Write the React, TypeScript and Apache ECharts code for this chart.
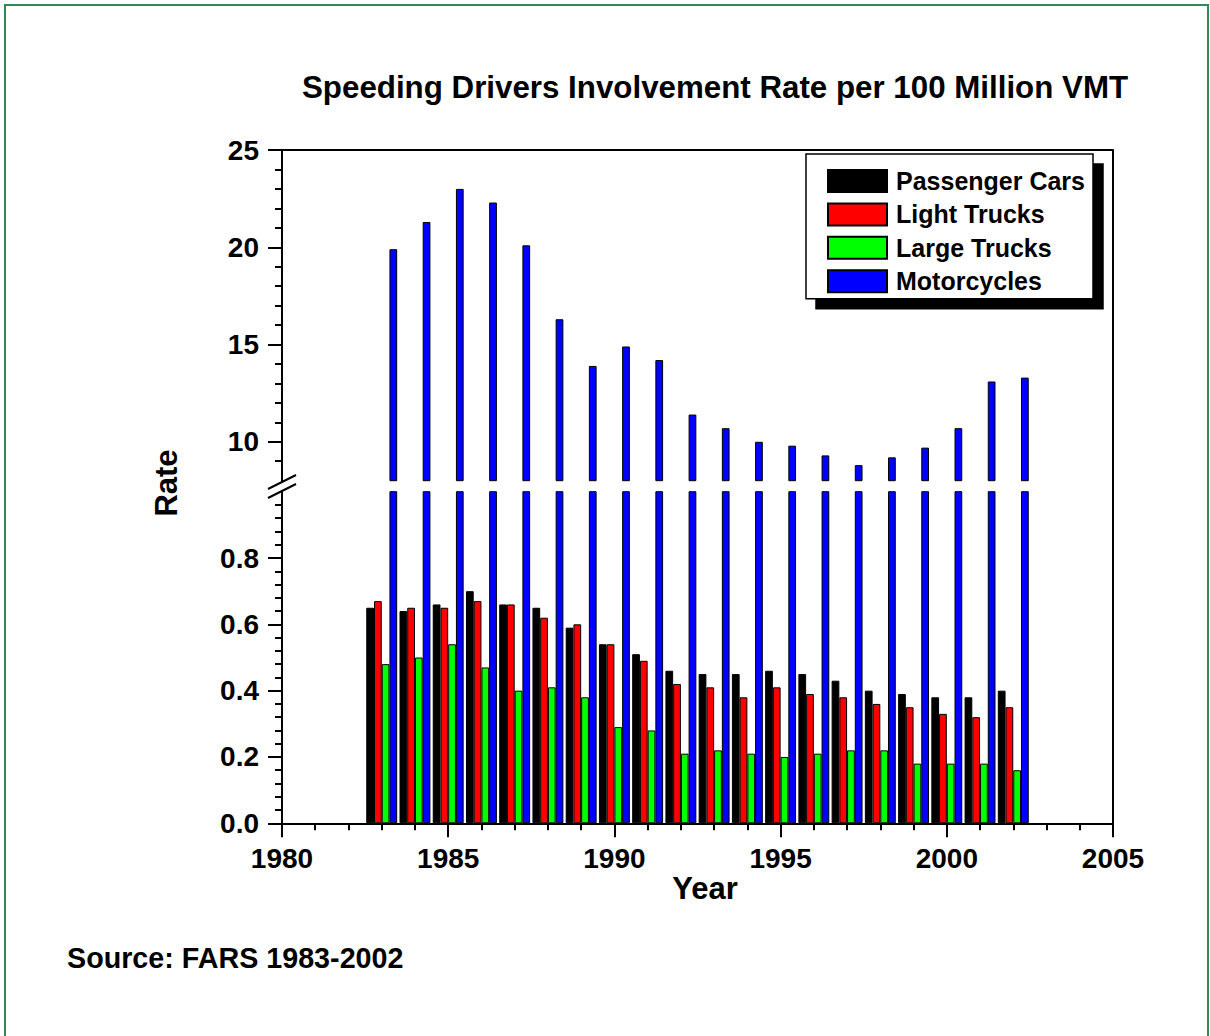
import React, { useEffect, useRef } from "react";
import * as echarts from "echarts";

const years = [1983, 1984, 1985, 1986, 1987, 1988, 1989, 1990, 1991, 1992, 1993, 1994, 1995, 1996, 1997, 1998, 1999, 2000, 2001, 2002];
const passengerCars = [0.65, 0.64, 0.66, 0.70, 0.66, 0.65, 0.59, 0.54, 0.51, 0.46, 0.45, 0.45, 0.46, 0.45, 0.43, 0.40, 0.39, 0.38, 0.38, 0.40];
const lightTrucks = [0.67, 0.65, 0.65, 0.67, 0.66, 0.62, 0.60, 0.54, 0.49, 0.42, 0.41, 0.38, 0.41, 0.39, 0.38, 0.36, 0.35, 0.33, 0.32, 0.35];
const largeTrucks = [0.48, 0.50, 0.54, 0.47, 0.40, 0.41, 0.38, 0.29, 0.28, 0.21, 0.22, 0.21, 0.20, 0.21, 0.22, 0.22, 0.18, 0.18, 0.18, 0.16];
const motorcycles = [19.9, 21.3, 23.0, 22.3, 20.1, 16.3, 13.9, 14.9, 14.2, 11.4, 10.7, 10.0, 9.8, 9.3, 8.8, 9.2, 9.7, 10.7, 13.1, 13.3];

const seriesNames = ["Passenger Cars", "Light Trucks", "Large Trucks", "Motorcycles"];
const seriesColors = ["#000000", "#ff0000", "#00ff00", "#0000ff"];
const seriesValues = [passengerCars, lightTrucks, largeTrucks, motorcycles];

const upperMajorTicks = [10, 15, 20, 25];
const upperMinorTicks = [9, 11, 12, 13, 14, 16, 17, 18, 19, 21, 22, 23, 24];
const lowerMajorTicks = [0, 0.2, 0.4, 0.6, 0.8];

const FONT = "'Liberation Sans', Arial, sans-serif";

export default function App() {
  const ref = useRef<HTMLDivElement>(null);
  useEffect(() => {
    document.body.style.margin = "0";
    const chart = echarts.init(ref.current!, null, { renderer: "svg" });
    const left = 282;
    const width = 831;
    const upperTop = 150;
    const upperH = 330.7;
    const lowerTop = 491.7;
    const lowerH = 331.6;

    const mkSeries = (gridIdx: number) =>
      seriesNames.map((name, i) => ({
        type: "bar",
        name,
        xAxisIndex: gridIdx,
        yAxisIndex: gridIdx === 0 ? 0 : 2,
        data: years.map((y, k) => [y, seriesValues[i][k]]),
        barGap: "0%",
        barCategoryGap: "7%",
        clip: true,
        itemStyle: { color: seriesColors[i], borderColor: "#000", borderWidth: 1 },
        emphasis: { disabled: true },
      }));

    const labelStyle = { color: "#000", fontSize: 28, fontWeight: "bold", fontFamily: FONT };

    chart.setOption({
      animation: false,
      title: {
        text: "Speeding Drivers Involvement Rate per 100 Million VMT",
        left: 302,
        top: 72,
        padding: 0,
        textStyle: { color: "#000", fontSize: 31.3, fontWeight: "bold", fontFamily: FONT },
      },
      legend: {
        data: seriesNames,
        orient: "vertical",
        left: 806,
        top: 154,
        padding: [14.5, 8, 5, 21],
        itemGap: 8.4,
        itemWidth: 59,
        itemHeight: 22,
        icon: "rect",
        selectedMode: false,
        backgroundColor: "#fff",
        borderColor: "#000",
        borderWidth: 1.5,
        shadowColor: "#000",
        shadowBlur: 0,
        shadowOffsetX: 10,
        shadowOffsetY: 10,
        textStyle: { color: "#000", fontSize: 25, fontWeight: "bold", fontFamily: FONT, padding: [0, 0, 0, 4] },
      },
      grid: [
        { left, width, top: upperTop, height: upperH },
        { left, width, top: lowerTop, height: lowerH },
      ],
      xAxis: [
        {
          type: "value",
          gridIndex: 0,
          position: "top",
          min: 1980,
          max: 2005,
          interval: 5,
          axisLine: { show: true, onZero: false, lineStyle: { color: "#000", width: 2 } },
          axisTick: { show: false },
          axisLabel: { show: false },
          splitLine: { show: false },
        },
        {
          type: "value",
          gridIndex: 1,
          position: "bottom",
          min: 1980,
          max: 2005,
          interval: 5,
          name: "Year",
          nameLocation: "middle",
          nameGap: 41,
          nameTextStyle: { color: "#000", fontSize: 31, fontWeight: "bold", fontFamily: FONT, padding: [0, 0, 0, 15] },
          axisLine: { show: true, onZero: false, lineStyle: { color: "#000", width: 2 } },
          axisTick: { show: true, length: 14, lineStyle: { color: "#000", width: 2 } },
          minorTick: { show: true, splitNumber: 5, length: 7, lineStyle: { color: "#000", width: 2 } },
          axisLabel: { ...labelStyle, margin: 21, formatter: (v: number) => String(v) },
          splitLine: { show: false },
        },
      ],
      yAxis: [
        {
          type: "value",
          gridIndex: 0,
          position: "left",
          min: 8,
          max: 25,
          interval: 1,
          axisLine: { show: true, onZero: false, lineStyle: { color: "#000", width: 2 } },
          axisTick: { show: true, length: 7, customValues: upperMinorTicks, lineStyle: { color: "#000", width: 2 } },
          axisLabel: { show: false },
          splitLine: { show: false },
        },
        {
          type: "value",
          gridIndex: 0,
          position: "left",
          min: 8,
          max: 25,
          interval: 1,
          axisLine: { show: false, onZero: false },
          axisTick: { show: true, length: 14, customValues: upperMajorTicks, lineStyle: { color: "#000", width: 2 } },
          axisLabel: { ...labelStyle, margin: 23, customValues: upperMajorTicks },
          splitLine: { show: false },
        },
        {
          type: "value",
          gridIndex: 1,
          position: "left",
          min: 0,
          max: 1,
          interval: 0.2,
          axisLine: { show: true, onZero: false, lineStyle: { color: "#000", width: 2 } },
          axisTick: { show: true, length: 14, customValues: lowerMajorTicks, lineStyle: { color: "#000", width: 2 } },
          minorTick: { show: true, splitNumber: 5, length: 7, lineStyle: { color: "#000", width: 2 } },
          axisLabel: { ...labelStyle, margin: 23, customValues: lowerMajorTicks, formatter: (v: number) => v.toFixed(1) },
          splitLine: { show: false },
        },
      ],
      series: [...mkSeries(0), ...mkSeries(1)],
      graphic: [
        {
          type: "rect",
          shape: { x: 5, y: 5, width: 1203, height: 1045 },
          style: { fill: "none", stroke: "#2e8b57", lineWidth: 2 },
          silent: true,
        },
        {
          type: "line",
          shape: { x1: left + width, y1: upperTop, x2: left + width, y2: lowerTop + lowerH },
          style: { stroke: "#000", lineWidth: 2 },
          silent: true,
        },
        {
          type: "line",
          shape: { x1: 268, y1: 489, x2: 296, y2: 475 },
          style: { stroke: "#000", lineWidth: 2 },
          silent: true,
        },
        {
          type: "line",
          shape: { x1: 268, y1: 498, x2: 296, y2: 484 },
          style: { stroke: "#000", lineWidth: 2 },
          silent: true,
        },
        {
          type: "text",
          x: 166,
          y: 483,
          rotation: Math.PI / 2,
          style: { text: "Rate", fill: "#000", fontSize: 31, fontWeight: "bold", fontFamily: FONT, align: "center", verticalAlign: "middle" },
          silent: true,
        },
        {
          type: "text",
          x: 67,
          y: 958,
          style: { text: "Source: FARS 1983-2002", fill: "#000", fontSize: 28.7, fontWeight: "bold", fontFamily: FONT, align: "left", verticalAlign: "middle" },
          silent: true,
        },
      ],
    });
    return () => chart.dispose();
  }, []);
  return <div ref={ref} style={{ width: 1210, height: 1036 }} />;
}
